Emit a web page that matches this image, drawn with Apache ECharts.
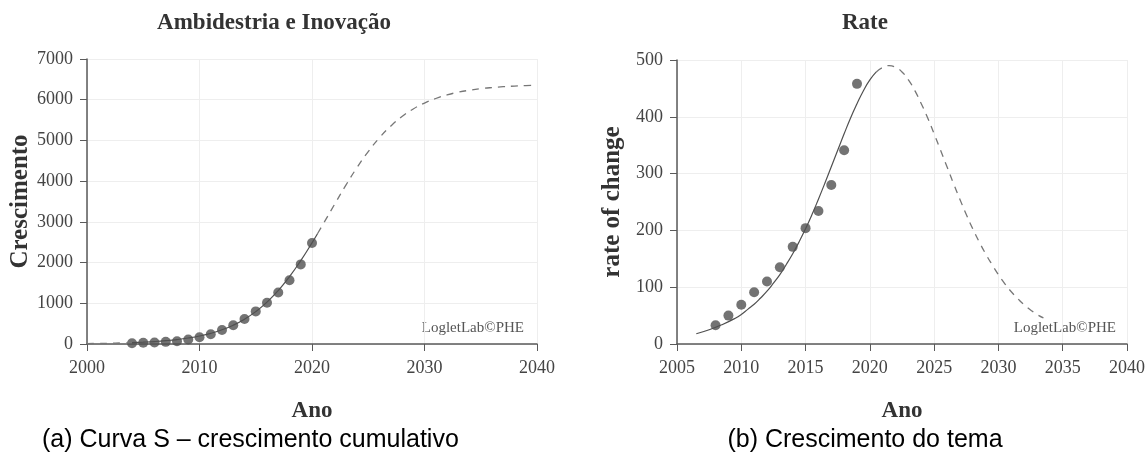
<!DOCTYPE html>
<html>
<head>
<meta charset="utf-8">
<script src="https://cdn.jsdelivr.net/npm/echarts@6/dist/echarts.min.js"></script>
<style>
  html,body{margin:0;padding:0;background:#fff;}
  #main{width:1148px;height:454px;}
</style>
</head>
<body>
<div id="main"></div>
<script>
// (a) cumulative growth, observed points
var sYears = [2004,2005,2006,2007,2008,2009,2010,2011,2012,2013,2014,2015,2016,2017,2018,2019,2020];
var sCounts = [20,29,37,53,69,110,167,240,346,459,614,801,1012,1264,1565,1955,2480];

// (a) fitted logistic curve
var sFitYears = [2000,2001,2002,2003,2004,2005,2006,2007,2008,2009,2010,2011,2012,2013,2014,2015,2016,2017,2018,2019,2020,2020.5,
                 2021,2022,2023,2024,2025,2026,2027,2028,2029,2030,2031,2032,2033,2034,2035,2036,2037,2038,2039,2040];
var sFitVals = [10,14,18,25,33,45,60,81,109,147,196,262,349,462,608,795,1028,1313,1654,2047,2484,2715,
                2951,3428,3895,4334,4726,5067,5352,5587,5773,5918,6030,6118,6184,6233,6271,6299,6320,6335,6347,6355];
var sSolidFrom = 2004, sSolidTo = 2020.5;

// (b) rate of change, observed points
var rYears = [2008,2009,2010,2011,2012,2013,2014,2015,2016,2017,2018,2019];
var rVals = [33,50,69,91,110,135,171,204,234,280,341,458];

// (b) fitted bell curve
var rFitYears = [2006.5,2007.5,2008.5,2009.5,2010,2010.5,2011,2011.5,2012,2012.5,2013,2013.5,2014,2014.5,2015,2015.5,2016,2016.5,
                 2017,2017.5,2018,2018.5,2019,2019.5,2020,2020.5,2021,2021.5,2022,2022.5,2023,2023.5,2024,2024.5,2025,2025.5,
                 2026,2026.5,2027,2027.5,2028,2028.5,2029,2029.5,2030,2030.5,2031,2031.5,2032,2032.5,2033,2033.5];
var rFitVals = [18,25,34,45,52,61,70,81,93,107,122,140,159,180,203,228,255,283,
                312,341,370,398,423,446,465,479,487,490,487,479,465,446,423,398,370,341,
                312,283,255,228,203,180,159,140,122,106,92,80,69,60,52,46];
var rSolidTo = 2020.5;

var serif = "'Liberation Serif', 'DejaVu Serif', serif";
var sans = "'Liberation Sans', Arial, sans-serif";
var dark = '#505050';

function pairs(xs, ys, test) {
  var out = [];
  for (var i = 0; i < xs.length; i++) {
    out.push(test(xs[i]) ? [xs[i], ys[i]] : [xs[i], null]);
  }
  return out;
}

function xAx(idx, min, step) {
  return {
    type: 'value', gridIndex: idx, min: min, max: 2040, interval: step,
    name: 'Ano', nameLocation: 'middle', nameGap: 56,
    nameTextStyle: {fontFamily: serif, fontSize: 23, fontWeight: 'bold', color: '#333'},
    axisLine: {lineStyle: {color: '#5a5a5a', width: 1.5}},
    axisTick: {length: 7, lineStyle: {color: '#5a5a5a'}},
    axisLabel: {fontFamily: serif, fontSize: 18, color: '#444', margin: 15,
      formatter: function (v) { return String(v); }},
    splitLine: {show: true, lineStyle: {color: '#eeeeee'}}
  };
}

function yAx(idx, max, step, label, gap) {
  return {
    type: 'value', gridIndex: idx, min: 0, max: max, interval: step,
    name: label, nameLocation: 'middle', nameGap: gap,
    nameTextStyle: {fontFamily: serif, fontSize: 25, fontWeight: 'bold', color: '#333'},
    axisLine: {show: true, lineStyle: {color: '#5a5a5a', width: 1.5}},
    axisTick: {show: true, length: 7, lineStyle: {color: '#5a5a5a'}},
    axisLabel: {fontFamily: serif, fontSize: 18, color: '#444', margin: 14,
      formatter: function (v) { return String(v); }},
    splitLine: {show: true, lineStyle: {color: '#eeeeee'}}
  };
}

var myChart = echarts.init(document.getElementById('main'));
var option = {
  backgroundColor: '#fff',
  animation: false,
  grid: [
    {left: 87, right: 611, top: 59, bottom: 110},
    {left: 677, right: 19, top: 60, bottom: 110}
  ],
  xAxis: [xAx(0, 2000, 10), xAx(1, 2005, 5)],
  yAxis: [yAx(0, 7000, 1000, 'Crescimento', 54), yAx(1, 500, 100, 'rate of change', 52)],
  graphic: [
    {type: 'text', x: 274, y: 23, style: {text: 'Ambidestria e Inovação', font: 'bold 23px ' + serif, fill: '#333', align: 'center', verticalAlign: 'middle'}},
    {type: 'text', x: 865, y: 23, style: {text: 'Rate', font: 'bold 23px ' + serif, fill: '#333', align: 'center', verticalAlign: 'middle'}},
    {type: 'text', x: 524, y: 328, style: {text: 'LogletLab©PHE', font: '15px ' + serif, fill: '#555', align: 'right', verticalAlign: 'middle'}},
    {type: 'text', x: 1116, y: 328, style: {text: 'LogletLab©PHE', font: '15px ' + serif, fill: '#555', align: 'right', verticalAlign: 'middle'}},
    {type: 'text', x: 42, y: 440, style: {text: '(a) Curva S – crescimento cumulativo', font: '25px ' + sans, fill: '#000', align: 'left', verticalAlign: 'middle'}},
    {type: 'text', x: 865, y: 440, style: {text: '(b) Crescimento do tema', font: '25px ' + sans, fill: '#000', align: 'center', verticalAlign: 'middle'}}
  ],
  series: [
    {type: 'line', xAxisIndex: 0, yAxisIndex: 0, symbol: 'none', smooth: true, connectNulls: false,
      lineStyle: {color: '#777', width: 1.3, type: [7, 6]},
      data: pairs(sFitYears, sFitVals, function (t) { return t <= sSolidFrom || t >= sSolidTo; })},
    {type: 'line', xAxisIndex: 0, yAxisIndex: 0, symbol: 'none', smooth: true,
      lineStyle: {color: dark, width: 1.2},
      data: pairs(sFitYears, sFitVals, function (t) { return t >= sSolidFrom && t <= sSolidTo; })},
    {type: 'scatter', xAxisIndex: 0, yAxisIndex: 0, symbolSize: 10, itemStyle: {color: dark},
      data: sYears.map(function (y, i) { return [y, sCounts[i]]; })},
    {type: 'line', xAxisIndex: 1, yAxisIndex: 1, symbol: 'none', smooth: true, connectNulls: false,
      lineStyle: {color: '#777', width: 1.3, type: [7, 6]},
      data: pairs(rFitYears, rFitVals, function (t) { return t >= rSolidTo; })},
    {type: 'line', xAxisIndex: 1, yAxisIndex: 1, symbol: 'none', smooth: true,
      lineStyle: {color: dark, width: 1.2},
      data: pairs(rFitYears, rFitVals, function (t) { return t <= rSolidTo; })},
    {type: 'scatter', xAxisIndex: 1, yAxisIndex: 1, symbolSize: 10, itemStyle: {color: dark},
      data: rYears.map(function (y, i) { return [y, rVals[i]]; })}
  ]
};
myChart.setOption(option);
</script>
</body>
</html>
